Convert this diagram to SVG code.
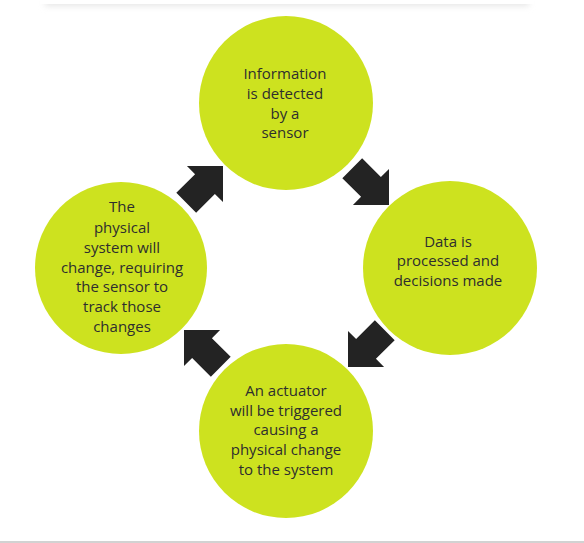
<svg xmlns="http://www.w3.org/2000/svg" width="584" height="543" viewBox="0 0 584 543">
  <defs>
    <style>
      .node circle { fill: #cde21f; }
      .node text { font-family: "Open Sans", "DejaVu Sans", sans-serif; font-size: 15px; fill: #2e2e2e; text-anchor: middle; }
      .arrow { fill: #232323; }
    </style>
    <polygon id="arr" points="-52,-14 -25.5,-14 -25.5,-25.5 0,0 -25.5,25.5 -25.5,14 -52,14"/>
    <filter id="blur" x="-10%" y="-200%" width="120%" height="500%">
      <feGaussianBlur stdDeviation="3"/>
    </filter>
  </defs>
  <rect width="584" height="543" fill="#ffffff"/>
  <rect x="45" y="-6" width="484" height="12" fill="#e6e6e6" filter="url(#blur)"/>
  <rect x="40" y="-10" width="494" height="14" fill="#ffffff"/>
  <rect x="0" y="541" width="584" height="2" fill="#d2d2d2"/>

  <g id="node-sensor" class="node">
    <circle cx="286" cy="103" r="87"/>
    <text x="285" y="79">Information</text>
    <text x="285" y="99">is detected</text>
    <text x="285" y="119">by a</text>
    <text x="285" y="138">sensor</text>
  </g>
  <g id="node-process" class="node">
    <circle cx="450" cy="268" r="87"/>
    <text x="448" y="247">Data is</text>
    <text x="448" y="266">processed and</text>
    <text x="448" y="286">decisions made</text>
  </g>
  <g id="node-actuator" class="node">
    <circle cx="286" cy="431" r="87"/>
    <text x="286" y="396">An actuator</text>
    <text x="286" y="415.5">will be triggered</text>
    <text x="286" y="435">causing a</text>
    <text x="286" y="455">physical change</text>
    <text x="286" y="475">to the system</text>
  </g>
  <g id="node-system" class="node">
    <circle cx="121" cy="268" r="86"/>
    <text x="122" y="212">The</text>
    <text x="122" y="232.5">physical</text>
    <text x="122" y="252.5">system will</text>
    <text x="122" y="272.5">change, requiring</text>
    <text x="122" y="292">the sensor to</text>
    <text x="122" y="311.5">track those</text>
    <text x="122" y="331.5">changes</text>
  </g>

  <g id="connectors" class="arrow">
    <use href="#arr" transform="translate(389,205) rotate(45)"/>
    <use href="#arr" transform="translate(348,367) rotate(135)"/>
    <use href="#arr" transform="translate(184,330) rotate(225)"/>
    <use href="#arr" transform="translate(223,166) rotate(-45)"/>
  </g>
</svg>
